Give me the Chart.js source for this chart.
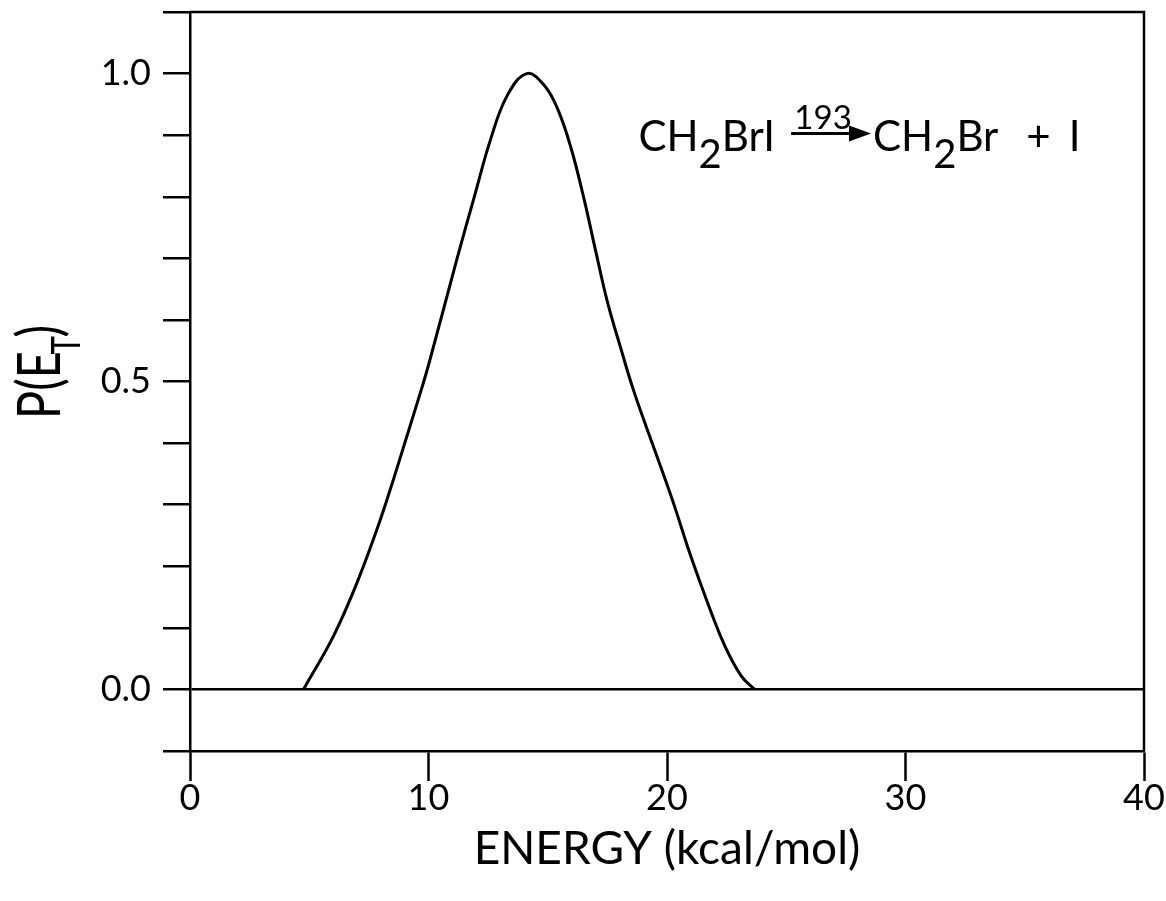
<!DOCTYPE html>
<html>
<head>
<meta charset="utf-8">
<script src="https://cdn.jsdelivr.net/npm/chart.js@4"></script>
<style>
  html, body { margin: 0; padding: 0; background: #fff; }
  #wrap { width: 1166px; height: 901px; }
</style>
</head>
<body>
<div id="wrap"><canvas id="petChart" width="1166" height="901"></canvas></div>
<script>
// P(E_T)
var energy = [4.76, 6.02, 7.00, 7.84, 8.40, 9.10, 9.66, 10.01, 11.20, 11.90, 12.61, 13.31, 14.12, 14.85, 15.41, 15.97, 16.53, 17.02, 17.51, 18.07, 18.56, 19.19, 19.89, 20.31, 21.01, 21.71, 22.41, 23.11, 23.67];
var prob = [0, 0.087, 0.173, 0.260, 0.325, 0.412, 0.482, 0.528, 0.70, 0.797, 0.894, 0.965, 1.0, 0.981, 0.943, 0.88, 0.795, 0.71, 0.628, 0.553, 0.49, 0.42, 0.345, 0.298, 0.215, 0.14, 0.072, 0.022, 0];
var xTicks = [0, 10, 20, 30, 40];
var yLabelValues = [0, 0.5, 1.0];
var yTickLabels = ['0.0', '0.5', '1.0'];

var ink = '#000';
var face = 'Lato, "DejaVu Sans", sans-serif';
Chart.defaults.font.family = face;
Chart.defaults.color = ink;

var points = energy.map(function (e, i) { return {x: e, y: prob[i]}; });

function near(a, b) { return Math.abs(a - b) < 1e-6; }

// frame on top/right, y title with subscript, reaction label
var extras = {
    id: 'extras',
    afterDraw: function (chart) {
        var ctx = chart.ctx, a = chart.chartArea;
        var xs = chart.scales.x, ys = chart.scales.y;
        ctx.save();
        ctx.strokeStyle = ink;
        ctx.lineWidth = 2.5;
        ctx.beginPath();
        ctx.moveTo(a.left, a.top);
        ctx.lineTo(a.right, a.top);
        ctx.lineTo(a.right, a.bottom);
        ctx.stroke();

        // y title P(E_T), a bit condensed like the original lettering
        ctx.fillStyle = ink;
        ctx.translate(60, 372);
        ctx.rotate(-Math.PI / 2);
        ctx.scale(0.78, 1);
        ctx.textBaseline = 'alphabetic';
        ctx.font = '60px ' + face;
        var w1 = ctx.measureText('P(E').width;
        ctx.font = '40px ' + face;
        var w2 = ctx.measureText('T').width;
        ctx.font = '60px ' + face;
        var w3 = ctx.measureText(')').width;
        var x0 = -(w1 + w2 + w3 - 6) / 2;
        ctx.fillText('P(E', x0, 0);
        ctx.font = '40px ' + face;
        ctx.fillText('T', x0 + w1 - 4, 20);
        ctx.font = '60px ' + face;
        ctx.fillText(')', x0 + w1 + w2 - 6, 0);
        ctx.restore();

        // reaction annotation
        ctx.save();
        ctx.fillStyle = ink;
        ctx.strokeStyle = ink;
        ctx.textBaseline = 'alphabetic';
        var bx = xs.getPixelForValue(18.8);
        var by = ys.getPixelForValue(0.875);
        var big = '42px ' + face, sub = '40px ' + face;
        function put(t, f, dy) {
            ctx.font = f;
            ctx.fillText(t, bx, by + dy);
            bx += ctx.measureText(t).width;
        }
        put('CH', big, 0); put('2', sub, 17); put('BrI', big, 0);
        bx += 16;
        var ax0 = bx, ax1 = bx + 80;
        ctx.lineWidth = 3;
        ctx.beginPath();
        ctx.moveTo(ax0, by - 17);
        ctx.lineTo(ax1 - 14, by - 17);
        ctx.stroke();
        ctx.beginPath();
        ctx.moveTo(ax1, by - 17);
        ctx.lineTo(ax1 - 22, by - 25);
        ctx.lineTo(ax1 - 22, by - 9);
        ctx.closePath();
        ctx.fill();
        ctx.font = '33px ' + face;
        ctx.textAlign = 'center';
        ctx.fillText('193', (ax0 + ax1) / 2 - 8, by - 22);
        ctx.textAlign = 'left';
        bx = ax1 + 2;
        put('CH', big, 0); put('2', sub, 17); put('Br', big, 0);
        bx += 28;
        put('+', big, 0);
        bx += 18;
        put('I', big, 0);
        ctx.restore();
    }
};

var ctx = document.getElementById('petChart').getContext('2d');
new Chart(ctx, {
    type: 'line',
    data: {
        datasets: [{
            data: points,
            borderColor: ink,
            borderWidth: 3,
            pointRadius: 0,
            fill: false,
            tension: 0.4
        }]
    },
    options: {
        responsive: false,
        animation: false,
        layout: {padding: {top: 12, right: 22, left: 0, bottom: 0}},
        plugins: {legend: {display: false}, tooltip: {enabled: false}},
        scales: {
            x: {
                type: 'linear',
                min: 0,
                max: 40,
                afterBuildTicks: function (s) { s.ticks = xTicks.map(function (v) { return {value: v}; }); },
                ticks: {font: {size: 36}, padding: -4, maxRotation: 0, autoSkip: false},
                grid: {drawOnChartArea: false, tickLength: 30, tickColor: ink, tickWidth: 2.5},
                border: {color: ink, width: 2.5},
                title: {display: true, text: 'ENERGY (kcal/mol)', font: {size: 46}, padding: {top: 0, bottom: 24}},
                afterFit: function (s) { s.height = 150; s.paddingLeft = 0; s.paddingRight = 0; }
            },
            y: {
                type: 'linear',
                min: -0.1,
                max: 1.1,
                ticks: {
                    stepSize: 0.1,
                    font: {size: 36},
                    padding: 12,
                    autoSkip: false,
                    callback: function (v) {
                        for (var i = 0; i < yLabelValues.length; i++) {
                            if (near(v, yLabelValues[i])) return yTickLabels[i];
                        }
                        return '';
                    }
                },
                grid: {
                    drawOnChartArea: true,
                    tickLength: 27,
                    tickColor: ink,
                    tickWidth: 2.5,
                    lineWidth: 2.5,
                    color: function (c) { return (c.tick && near(c.tick.value, 0)) ? ink : 'rgba(0,0,0,0)'; }
                },
                border: {color: ink, width: 2.5},
                afterFit: function (s) { s.width = 190; s.paddingTop = 0; s.paddingBottom = 0; }
            }
        }
    },
    plugins: [extras]
});
</script>
</body>
</html>
